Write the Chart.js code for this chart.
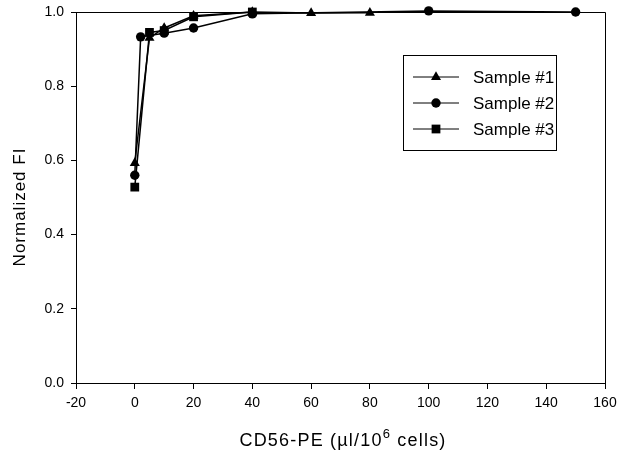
<!DOCTYPE html>
<html>
<head>
<meta charset="utf-8">
<script src="https://cdn.jsdelivr.net/npm/chart.js@4.4.1/dist/chart.umd.min.js"></script>
<style>
  html, body { margin: 0; padding: 0; background: #fff; }
  #wrap { width: 618px; height: 459px; }
</style>
</head>
<body>
<div id="wrap"><canvas id="chart" width="618" height="459"></canvas></div>
<script>
// datos
const sample1X = [0, 5, 10, 20, 40, 60, 80];
const sample1Y = [0.593, 0.93, 0.957, 0.99, 1.0, 0.997, 0.998];
const sample2X = [0, 2, 10, 20, 40, 100, 150];
const sample2Y = [0.56, 0.933, 0.943, 0.957, 0.995, 1.003, 1.0];
const sample3X = [0, 5, 10, 20, 40];
const sample3Y = [0.528, 0.945, 0.95, 0.987, 1.0];
const seriesNames = ['Sample #1', 'Sample #2', 'Sample #3'];
const markers = ['triangle', 'circle', 'rect'];
const markerRadius = { triangle: 5.8, circle: 4.7, rect: 6.2 };
const xTicks = { min: -20, max: 160, step: 20 };
const yTicks = { min: 0, max: 1.0, step: 0.2 };

const FONT = '"Liberation Sans", Arial, sans-serif';

function toPoints(xs, ys) {
    return xs.map((x, i) => ({ x: x, y: ys[i] }));
}

function makeDataset(i, xs, ys) {
    return {
        label: seriesNames[i],
        data: toPoints(xs, ys),
        showLine: true,
        borderColor: '#000',
        backgroundColor: '#000',
        borderWidth: 1.5,
        pointStyle: markers[i],
        pointRadius: markerRadius[markers[i]],
        pointBorderWidth: 0,
        clip: false
    };
}

// caja, titulos y leyenda dibujados a mano
const decorPlugin = {
    id: 'decor',
    afterDraw(chart) {
        const ctx = chart.ctx;
        const a = chart.chartArea;
        ctx.save();
        ctx.strokeStyle = '#000';
        ctx.lineWidth = 1;
        ctx.beginPath();
        ctx.moveTo(a.left, a.top + 0.5);
        ctx.lineTo(a.right + 0.5, a.top + 0.5);
        ctx.lineTo(a.right + 0.5, a.bottom);
        ctx.stroke();

        // titulo eje x con superindice
        ctx.fillStyle = '#000';
        ctx.textBaseline = 'alphabetic';
        ctx.letterSpacing = '1.2px';
        const big = '18px ' + FONT;
        const small = '13px ' + FONT;
        const p1 = 'CD56-PE (\u00b5l/10';
        const p2 = '6';
        const p3 = ' cells)';
        ctx.font = big;
        const w1 = ctx.measureText(p1).width;
        const w3 = ctx.measureText(p3).width;
        ctx.font = small;
        const w2 = ctx.measureText(p2).width;
        const total = w1 + w2 + w3;
        let x = 343 - total / 2;
        const base = 446;
        ctx.font = big;
        ctx.fillText(p1, x, base);
        x += w1;
        ctx.font = small;
        ctx.fillText(p2, x, base - 8);
        x += w2;
        ctx.font = big;
        ctx.fillText(p3, x, base);

        // titulo eje y
        ctx.save();
        ctx.translate(20, 207);
        ctx.rotate(-Math.PI / 2);
        ctx.font = '17px ' + FONT;
        ctx.letterSpacing = '1px';
        ctx.textAlign = 'center';
        ctx.textBaseline = 'middle';
        ctx.fillText('Normalized FI', 0, 0);
        ctx.restore();
        ctx.letterSpacing = '0px';

        // leyenda
        ctx.strokeRect(403.5, 55.5, 153, 95);
        const rows = [77, 103, 129];
        rows.forEach((ry, i) => {
            ctx.beginPath();
            ctx.moveTo(413, ry);
            ctx.lineTo(459, ry);
            ctx.lineWidth = 1;
            ctx.stroke();
            Chart.helpers.drawPoint(ctx, {
                pointStyle: markers[i],
                radius: markerRadius[markers[i]],
                borderWidth: 0
            }, 436, ry);
            ctx.font = '17px ' + FONT;
            ctx.textAlign = 'left';
            ctx.textBaseline = 'middle';
            ctx.fillText(seriesNames[i], 473, ry + 1);
        });
        ctx.restore();
    }
};

document.addEventListener('DOMContentLoaded', () => {
    const ctx = document.getElementById('chart').getContext('2d');
    new Chart(ctx, {
        type: 'scatter',
        data: {
            datasets: [
                makeDataset(0, sample1X, sample1Y),
                makeDataset(1, sample2X, sample2Y),
                makeDataset(2, sample3X, sample3Y)
            ]
        },
        options: {
            responsive: false,
            animation: false,
            layout: { padding: { top: 12, right: 13, left: 0, bottom: 0 } },
            plugins: {
                legend: { display: false },
                tooltip: { enabled: false }
            },
            scales: {
                x: {
                    type: 'linear',
                    min: xTicks.min,
                    max: xTicks.max,
                    afterFit(scale) {
                        scale.height = 76;
                        scale.paddingLeft = 0;
                        scale.paddingRight = 0;
                    },
                    ticks: {
                        stepSize: xTicks.step,
                        color: '#000',
                        font: { family: FONT, size: 14 },
                        padding: 6,
                        maxRotation: 0
                    },
                    grid: { drawOnChartArea: false, tickLength: 6, color: '#000' },
                    border: { color: '#000', width: 1 }
                },
                y: {
                    min: yTicks.min,
                    max: yTicks.max,
                    afterFit(scale) {
                        scale.width = 76;
                        scale.paddingTop = 0;
                        scale.paddingBottom = 0;
                    },
                    ticks: {
                        stepSize: yTicks.step,
                        color: '#000',
                        font: { family: FONT, size: 14 },
                        padding: 7,
                        callback: v => v.toFixed(1)
                    },
                    grid: { drawOnChartArea: false, tickLength: 5, color: '#000' },
                    border: { color: '#000', width: 1 }
                }
            }
        },
        plugins: [decorPlugin]
    });
});
</script>
</body>
</html>
